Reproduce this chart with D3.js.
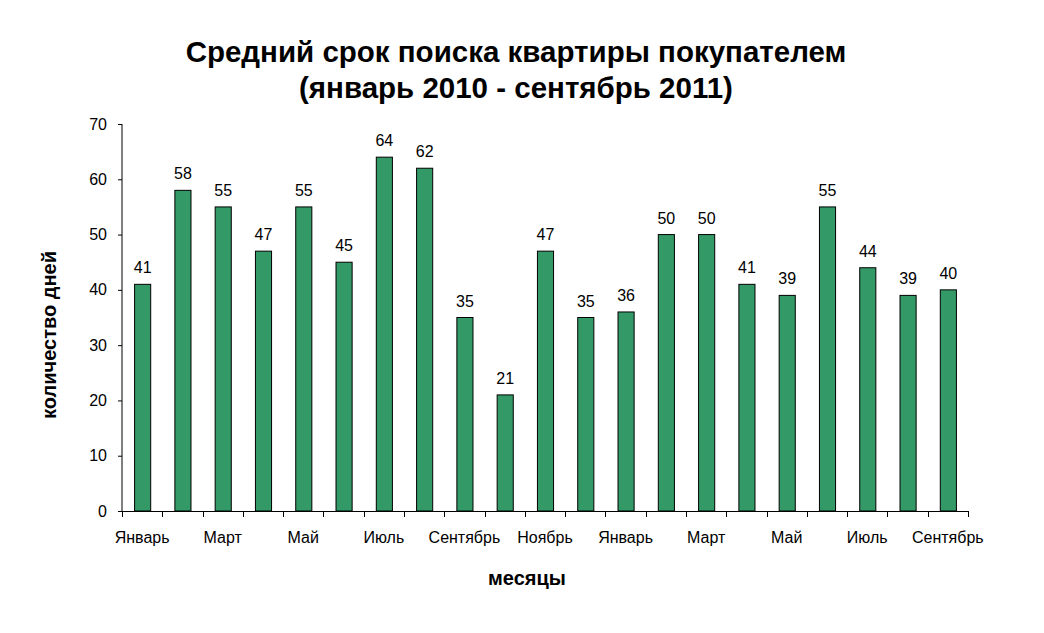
<!DOCTYPE html>
<html><head><meta charset="utf-8">
<script src="https://cdn.jsdelivr.net/npm/d3@7"></script>
<style>body{margin:0;background:#fff}text{font-family:"Liberation Sans",Arial,sans-serif}</style>
</head><body>
<svg id="c" width="1044" height="633"></svg>
<script>
const categories = ["Январь","Февраль","Март","Апрель","Май","Июнь","Июль","Август","Сентябрь","Октябрь","Ноябрь","Декабрь",
  "Январь","Февраль","Март","Апрель","Май","Июнь","Июль","Август","Сентябрь"];
const values = [41,58,55,47,55,45,64,62,35,21,47,35,36,50,50,41,39,55,44,39,40];
const yTicks = [0,10,20,30,40,50,60,70];
const titleLines = ["Средний срок поиска квартиры покупателем","(январь 2010 - сентябрь 2011)"];
const xTitle = "месяцы", yTitle = "количество дней";

const svg = d3.select("#c");
const L = 122, R = 968, T = 124, B = 511;
const ids = categories.map((c,i)=>i);
const x = d3.scaleBand().domain(ids).range([L,R]).paddingInner(0.6).paddingOuter(0.3);
const xb = d3.scaleBand().domain(ids).range([L,R]);
const y = d3.scaleLinear().domain([0,70]).range([B,T]);

// bars
svg.selectAll("rect.bar").data(values).join("rect")
  .attr("x",(d,i)=>x(i)+0.5).attr("width",x.bandwidth())
  .attr("y",d=>y(d)).attr("height",d=>B-y(d))
  .attr("fill","#339966").attr("stroke","#000").attr("stroke-width",1);

// value labels
svg.selectAll("text.val").data(values).join("text")
  .attr("x",(d,i)=>x(i)+x.bandwidth()/2+0.5).attr("y",d=>y(d)-11)
  .attr("text-anchor","middle").attr("font-size",16).text(d=>d);

// y axis
const ya = svg.append("g").attr("transform",`translate(${L},0)`)
  .call(d3.axisLeft(y).tickValues(yTicks).tickSize(4).tickPadding(11));
ya.selectAll("text").attr("font-size",16).attr("fill","#000").style("font-family","Liberation Sans, Arial, sans-serif");
ya.selectAll("line,path").attr("stroke","#000");
ya.select(".domain").attr("d",`M0,${B}V${T}`);

// x axis: ticks at category boundaries
const xg = svg.append("g");
xg.append("line").attr("x1",L).attr("x2",R).attr("y1",B+0.5).attr("y2",B+0.5).attr("stroke","#000");
const bounds = ids.map(i=>xb(i)).concat([R]);
xg.selectAll("line.t").data(bounds).join("line").attr("class","t")
  .attr("x1",d=>Math.round(d)+0.5).attr("x2",d=>Math.round(d)+0.5).attr("y1",B).attr("y2",B+6).attr("stroke","#000");
xg.selectAll("text").data(categories.map((c,i)=>({c,i})).filter(d=>d.i%2===0)).join("text")
  .attr("x",d=>xb(d.i)+xb.bandwidth()/2).attr("y",B+32)
  .attr("text-anchor","middle").attr("font-size",16).text(d=>d.c);

// titles
svg.append("text").attr("x",516).attr("y",62).attr("text-anchor","middle")
  .attr("font-size",29.5).attr("font-weight","bold").text(titleLines[0]);
svg.append("text").attr("x",516).attr("y",98).attr("text-anchor","middle")
  .attr("font-size",29.5).attr("font-weight","bold").text(titleLines[1]);
svg.append("text").attr("x",527).attr("y",585).attr("text-anchor","middle")
  .attr("font-size",20).attr("font-weight","bold").text(xTitle);
svg.append("text").attr("transform","translate(56,335) rotate(-90)").attr("text-anchor","middle")
  .attr("font-size",20).attr("font-weight","bold").text(yTitle);
</script>
</body></html>
